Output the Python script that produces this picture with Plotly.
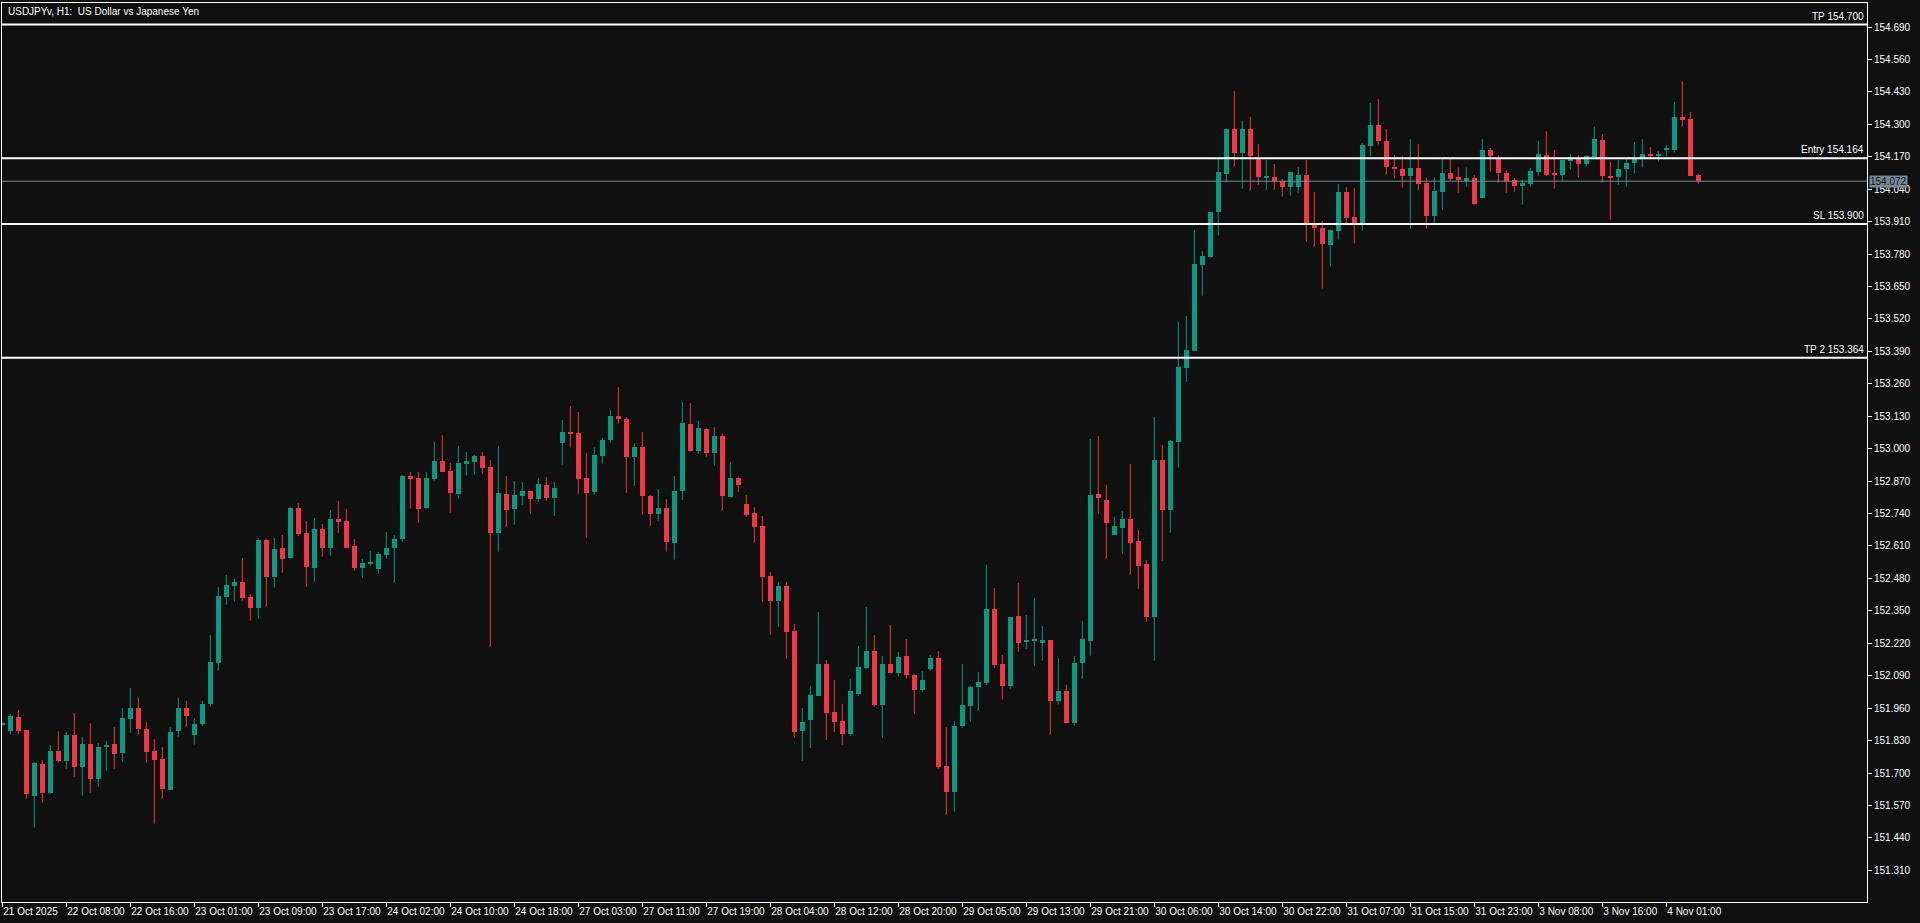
import plotly.graph_objects as go

# ---------------- data (USDJPYv, H1) ----------------
opens = [151.894,151.870,151.924,151.872,151.609,151.736,151.621,151.788,151.748,151.852,
151.725,151.816,151.677,151.804,151.816,151.782,151.918,151.960,151.876,151.788,
151.756,151.633,151.870,151.960,151.854,151.898,151.978,152.142,152.407,152.451,
152.466,152.405,152.363,152.634,152.487,152.602,152.563,152.762,152.662,152.523,
152.678,152.603,152.718,152.710,152.610,152.523,152.539,152.519,152.575,152.603,
152.639,152.890,152.882,152.763,152.880,152.951,152.910,152.820,152.940,152.948,
152.971,152.926,152.663,152.818,152.759,152.811,152.830,152.799,152.854,152.803,
153.024,153.067,153.063,152.882,152.827,152.972,153.036,153.131,153.119,152.968,
153.006,152.811,152.739,152.762,152.623,152.831,153.099,152.992,153.079,152.984,
153.051,152.807,152.882,152.778,152.742,152.690,152.489,152.391,152.449,152.269,
151.869,151.914,152.010,152.137,151.944,151.908,151.857,152.018,152.122,152.189,
151.974,152.137,152.102,152.169,152.093,152.034,152.117,152.161,151.728,151.625,
151.890,151.970,152.046,152.061,152.357,152.137,152.050,152.329,152.226,152.230,
152.222,152.233,151.990,152.029,151.902,152.141,152.230,152.818,152.794,152.655,
152.683,152.718,152.630,152.538,152.327,152.955,152.756,153.028,153.325,153.393,
153.738,153.770,153.950,154.102,154.281,154.187,154.281,154.164,154.087,154.089,
154.073,154.050,154.050,154.097,153.903,153.885,153.818,153.874,154.029,153.929,
153.903,154.215,154.298,154.233,154.129,154.121,154.091,154.125,154.065,153.934,
154.030,154.105,154.089,154.074,154.085,154.006,154.197,154.165,154.105,154.077,
154.054,154.062,154.110,154.177,154.101,154.098,154.154,154.165,154.139,154.169,
154.237,154.093,154.087,154.119,154.143,154.159,154.181,154.171,154.199,154.199,
154.330,154.322,154.097]

highs = [151.904,151.937,151.952,151.872,151.745,151.752,151.812,151.868,151.864,151.940,
151.844,151.900,151.820,151.828,151.884,151.960,152.041,152.001,151.904,151.836,
151.804,151.884,152.001,151.989,151.920,151.989,152.253,152.446,152.494,152.478,
152.562,152.417,152.642,152.638,152.642,152.654,152.766,152.782,152.710,152.722,
152.698,152.754,152.790,152.758,152.638,152.558,152.590,152.586,152.666,152.654,
152.894,152.906,152.906,152.906,153.027,153.055,152.943,153.011,152.987,152.975,
152.987,152.954,153.010,152.890,152.870,152.866,152.830,152.882,152.886,152.866,
153.115,153.171,153.147,152.982,153.006,153.043,153.155,153.247,153.127,153.022,
153.067,152.814,152.838,152.798,152.890,153.187,153.183,153.111,153.083,153.087,
153.063,152.946,152.886,152.814,152.766,152.730,152.505,152.465,152.465,152.297,
151.960,152.048,152.345,152.153,152.073,151.976,152.077,152.209,152.365,152.253,
152.169,152.293,152.185,152.237,152.097,152.109,152.173,152.189,151.884,151.908,
152.137,152.049,152.105,152.534,152.442,152.173,152.325,152.462,152.333,152.401,
152.289,152.233,152.161,152.053,152.169,152.309,153.039,153.051,152.854,152.726,
152.750,152.939,152.674,152.554,153.127,153.015,153.035,153.508,153.532,153.876,
153.792,153.949,154.163,154.281,154.434,154.314,154.330,154.221,154.157,154.141,
154.081,154.109,154.129,154.157,154.029,153.913,153.877,154.061,154.049,154.045,
154.225,154.386,154.402,154.281,154.177,154.173,154.241,154.221,154.087,154.087,
154.161,154.161,154.127,154.127,154.097,154.241,154.205,154.177,154.117,154.085,
154.077,154.125,154.233,154.273,154.197,154.157,154.181,154.177,154.177,154.290,
154.261,154.149,154.157,154.165,154.229,154.241,154.209,154.193,154.217,154.390,
154.474,154.350,154.101]

lows = [151.890,151.854,151.854,151.597,151.481,151.581,151.617,151.744,151.717,151.685,
151.609,151.621,151.645,151.709,151.717,151.745,151.862,151.854,151.741,151.497,
151.597,151.633,151.846,151.886,151.814,151.890,151.966,152.110,152.375,152.387,
152.391,152.311,152.319,152.367,152.443,152.503,152.559,152.651,152.447,152.467,
152.567,152.571,152.663,152.603,152.511,152.483,152.531,152.499,152.559,152.463,
152.627,152.760,152.703,152.760,152.872,152.908,152.743,152.800,152.892,152.896,
152.900,152.206,152.587,152.687,152.695,152.775,152.739,152.787,152.791,152.731,
152.936,153.004,152.819,152.643,152.815,152.940,153.024,153.100,152.823,152.851,
152.735,152.691,152.711,152.587,152.555,152.795,152.988,152.980,152.968,152.932,
152.751,152.807,152.827,152.727,152.623,152.387,152.254,152.286,152.158,151.841,
151.749,151.801,152.010,151.833,151.865,151.813,151.849,152.010,152.118,151.966,
151.841,152.102,152.086,152.078,151.938,152.026,152.110,151.717,151.533,151.545,
151.882,151.906,151.950,152.053,152.122,151.994,152.038,152.186,152.198,152.130,
152.150,151.854,151.974,151.898,151.890,152.078,152.170,152.739,152.559,152.655,
152.579,152.495,152.439,152.307,152.150,152.551,152.663,152.924,153.268,153.393,
153.613,153.766,153.854,154.066,154.131,154.042,154.034,154.058,154.038,154.038,
154.010,154.014,154.026,153.830,153.810,153.642,153.730,153.838,153.903,153.822,
153.874,154.171,154.219,154.099,154.083,154.046,153.882,154.038,153.882,153.906,
153.958,154.074,154.026,154.050,153.978,154.006,154.110,154.066,154.026,154.030,
153.978,154.050,154.094,154.094,154.042,154.074,154.119,154.087,154.131,154.169,
154.066,153.918,154.058,154.050,154.103,154.127,154.163,154.151,154.171,154.187,
154.291,154.094,154.062]

closes = [151.902,151.928,151.870,151.617,151.740,151.621,151.788,151.748,151.852,151.725,
151.816,151.677,151.804,151.812,151.778,151.920,151.960,151.878,151.786,151.753,
151.637,151.864,151.960,151.930,151.896,151.977,152.145,152.409,152.454,152.466,
152.403,152.363,152.634,152.487,152.598,152.559,152.762,152.659,152.527,152.678,
152.603,152.718,152.707,152.603,152.523,152.542,152.546,152.578,152.602,152.638,
152.890,152.880,152.760,152.882,152.951,152.908,152.824,152.943,152.951,152.971,
152.924,152.663,152.822,152.755,152.814,152.830,152.799,152.858,152.803,152.842,
153.067,153.060,152.880,152.823,152.974,153.034,153.131,153.120,152.968,153.006,
152.811,152.739,152.762,152.627,152.830,153.103,152.992,153.083,152.984,153.051,
152.811,152.882,152.855,152.735,152.687,152.487,152.391,152.449,152.266,151.865,
151.904,152.012,152.137,151.942,151.906,151.857,152.028,152.125,152.189,151.974,
152.137,152.102,152.165,152.094,152.034,152.073,152.161,151.725,151.625,151.888,
151.973,152.045,152.065,152.357,152.134,152.050,152.325,152.222,152.233,152.237,
152.233,151.990,152.029,151.902,152.141,152.237,152.814,152.804,152.703,152.690,
152.718,152.623,152.531,152.327,152.955,152.756,153.031,153.327,153.395,153.740,
153.772,153.949,154.109,154.281,154.187,154.281,154.171,154.087,154.093,154.073,
154.050,154.109,154.097,153.903,153.886,153.822,153.877,154.029,153.926,153.903,
154.217,154.298,154.235,154.127,154.119,154.091,154.125,154.062,153.934,154.033,
154.105,154.081,154.078,154.085,153.982,154.197,154.171,154.106,154.073,154.054,
154.065,154.113,154.181,154.097,154.097,154.157,154.163,154.139,154.173,154.241,
154.091,154.087,154.121,154.145,154.159,154.181,154.171,154.181,154.201,154.330,
154.319,154.094,154.072]

time_labels = ["21 Oct 2025", "22 Oct 08:00", "22 Oct 16:00", "23 Oct 01:00", "23 Oct 09:00",
               "23 Oct 17:00", "24 Oct 02:00", "24 Oct 10:00", "24 Oct 18:00", "27 Oct 03:00",
               "27 Oct 11:00", "27 Oct 19:00", "28 Oct 04:00", "28 Oct 12:00", "28 Oct 20:00",
               "29 Oct 05:00", "29 Oct 13:00", "29 Oct 21:00", "30 Oct 06:00", "30 Oct 14:00",
               "30 Oct 22:00", "31 Oct 07:00", "31 Oct 15:00", "31 Oct 23:00", "3 Nov 08:00",
               "3 Nov 16:00", "4 Nov 01:00"]

price_ticks = [154.690, 154.560, 154.430, 154.300, 154.170, 154.040, 153.910, 153.780,
               153.650, 153.520, 153.390, 153.260, 153.130, 153.000, 152.870, 152.740,
               152.610, 152.480, 152.350, 152.220, 152.090, 151.960, 151.830, 151.700,
               151.570, 151.440, 151.310]

level_names = ["TP", "Entry", "SL", "TP 2"]
level_prices = [154.700, 154.164, 153.900, 153.364]
bid_price = 154.072
title_text = "USDJPYv, H1:\u00a0 US Dollar vs Japanese Yen"

# ---------------- styling ----------------
BG = "#101010"
UP = "#089981"
DN = "#F23645"
FG = "#FFFFFF"
FONT = "Liberation Sans"

n = len(opens)
idx = list(range(n))
up_i = [i for i in idx if closes[i] >= opens[i]]
dn_i = [i for i in idx if closes[i] < opens[i]]

MIN_BODY = 0.004


def wick_xy(ids):
    xs, ys = [], []
    for i in ids:
        xs += [i, i, None]
        ys += [lows[i], highs[i], None]
    return xs, ys


fig = go.Figure()
for ids, col in ((up_i, UP), (dn_i, DN)):
    wx, wy = wick_xy(ids)
    fig.add_trace(go.Scatter(x=wx, y=wy, mode="lines", line=dict(color=col, width=1),
                             hoverinfo="skip", showlegend=False))
    fig.add_trace(go.Bar(
        x=ids,
        base=[min(opens[i], closes[i]) for i in ids],
        y=[max(abs(closes[i] - opens[i]), MIN_BODY) for i in ids],
        width=0.625, marker=dict(color=col, line=dict(width=0)),
        showlegend=False, hoverinfo="skip"))

shapes = []
for p in level_prices:
    shapes.append(dict(type="line", xref="paper", x0=0, x1=1, yref="y", y0=p, y1=p,
                       line=dict(color=FG, width=2), layer="above"))
shapes.append(dict(type="line", xref="paper", x0=0, x1=1, yref="y", y0=bid_price, y1=bid_price,
                   line=dict(color="#7a8899", width=1), layer="above"))

annotations = []
for name, p in zip(level_names, level_prices):
    annotations.append(dict(xref="paper", x=1, xanchor="right", xshift=-1,
                            yref="y", y=p, yanchor="bottom", yshift=1,
                            text=f"{name} {p:.3f}", showarrow=False,
                            font=dict(family=FONT, size=10, color=FG)))
annotations.append(dict(xref="paper", x=1, xanchor="left", xshift=2,
                        yref="y", y=bid_price, yanchor="middle",
                        text=f"{bid_price:.3f}", showarrow=False, bgcolor="#778899",
                        borderpad=0, font=dict(family=FONT, size=10, color="#101010")))
annotations.append(dict(xref="paper", x=0, xanchor="left", xshift=4,
                        yref="paper", y=1, yanchor="top", yshift=-1,
                        text=title_text, showarrow=False,
                        font=dict(family=FONT, size=10, color=FG)))

tick_idx = list(range(0, 8 * len(time_labels), 8))

fig.update_layout(
    width=1920, height=923,
    margin=dict(l=2, r=53, t=3, b=21, autoexpand=False),
    paper_bgcolor=BG, plot_bgcolor=BG,
    barmode="overlay", bargap=0, showlegend=False,
    shapes=shapes, annotations=annotations,
    xaxis=dict(range=[-0.0375, 233.0875], tickvals=tick_idx, ticktext=time_labels,
               tickangle=0,
               ticks="outside", ticklen=4, tickcolor=FG, tickwidth=1,
               ticklabelposition="outside right",
               showline=True, mirror=True, linecolor=FG, linewidth=1,
               showgrid=False, zeroline=False,
               tickfont=dict(family=FONT, size=10, color=FG)),
    yaxis=dict(range=[151.1830, 154.7862], side="right",
               tickvals=price_ticks, ticktext=[f"{v:.3f}" for v in price_ticks],
               ticks="outside", ticklen=4, tickcolor=FG, tickwidth=1,
               showline=True, mirror=True, linecolor=FG, linewidth=1,
               showgrid=False, zeroline=False,
               tickfont=dict(family=FONT, size=10, color=FG)),
)

fig.write_html("out.html", config={"displayModeBar": False},
               post_script="document.body.style.margin='0';document.body.style.overflow='hidden';")
